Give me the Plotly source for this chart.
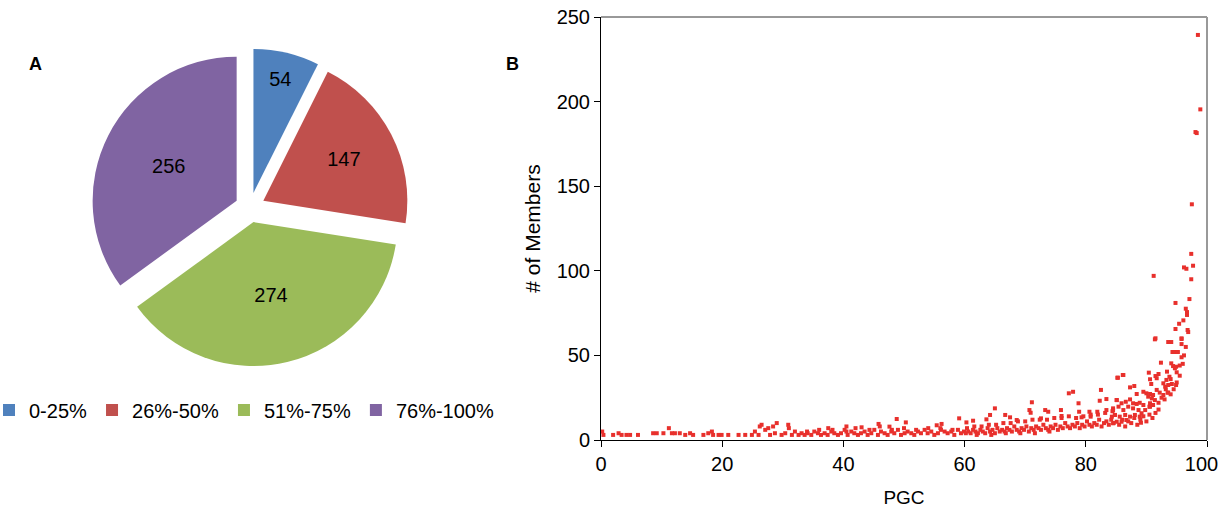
import plotly.graph_objects as go

# ---------- Panel A data ----------
pie_labels = ["0-25%", "26%-50%", "51%-75%", "76%-100%"]
pie_values = [54, 147, 274, 256]
pie_colors = ["#4F81BD", "#C0504D", "#9BBB59", "#8064A2"]

# ---------- Panel B data ----------
pgc_low = [0.2, 0.4, 2.0, 2.9, 3.4, 4.2, 4.8, 6.1, 8.6, 9.2, 10.3, 11.2, 11.7, 12.2, 13.0, 13.9,
           14.7, 15.2, 16.9, 17.7, 18.3, 18.5, 19.4, 19.9, 21.0, 22.7, 23.8, 24.9, 25.4, 26.0,
           26.2, 26.5, 27.1, 27.6, 27.9, 28.4, 29.0, 28.7, 29.8, 30.9, 31.0, 30.4, 31.5, 32.0,
           32.6, 33.1]
mem_low = [5, 3, 3, 4, 3, 3, 3, 3, 4, 4, 4, 7, 4, 4, 4, 3,
           4, 3, 3, 4, 5, 3, 3, 3, 3, 3, 3, 3, 5, 3,
           8, 9, 6, 7, 3, 8, 10, 4, 3, 9, 7, 4, 3, 5,
           3, 4]

pgc_mid = [33.6, 34.1, 34.7, 35.2, 35.8, 36.3, 36.9, 37.4, 38.0, 38.5, 39.1, 39.6, 40.2, 40.7,
           41.3, 41.8, 42.4, 42.9, 43.5, 44.0, 44.6, 45.1, 45.7, 46.2, 46.8, 47.3, 47.9, 48.4,
           49.0, 49.5, 50.1, 50.6, 51.2, 51.7, 52.3, 52.8, 53.4, 53.9, 54.5, 55.0, 55.6, 56.1,
           56.7, 57.2, 57.8, 58.3, 58.9, 59.4, 59.9,
           34.0, 36.0, 38.2, 40.5, 42.0, 44.3, 46.0, 48.0, 50.0, 52.0, 54.0, 56.0, 58.0,
           45.8, 47.6, 48.8, 50.3, 55.4, 56.2, 59.1, 40.5, 43.0, 37.5]
mem_mid = [3, 4, 3, 5, 4, 3, 4, 3, 5, 4, 3, 4, 6, 3,
           5, 4, 3, 4, 5, 3, 4, 6, 3, 5, 4, 3, 5, 4,
           6, 3, 4, 5, 4, 3, 5, 4, 6, 4, 5, 3, 4, 6,
           5, 4, 5, 3, 6, 4, 5,
           5, 6, 6, 5, 7, 6, 8, 6, 7, 6, 7, 7, 6,
           9.5, 7.9, 12.4, 10.4, 8.7, 9.5, 12.8, 8, 7.5, 7]

pgc_high = [60.2, 60.6, 61.0, 61.4, 61.8, 62.2, 62.6, 63.0, 63.4, 63.8, 64.2, 64.6, 65.0, 65.4,
            65.8, 66.2, 66.6, 67.0, 67.4, 67.8, 68.2, 68.6, 69.0, 69.4, 69.8, 70.2, 70.6, 71.0,
            71.4, 71.8, 72.2, 72.6, 73.0, 73.4, 73.8, 74.2, 74.6, 75.0, 75.4, 75.8, 76.2, 76.6,
            77.0, 77.4, 77.8, 78.2, 78.6, 79.0, 79.4, 79.8, 80.2, 80.6, 81.0, 81.4, 81.8, 82.2,
            82.6, 83.0, 83.4, 83.8, 84.2, 84.6,
            60.4, 61.6, 62.8, 64.0, 65.2, 66.4, 67.6, 68.8, 70.0, 71.2, 72.4, 73.6, 74.8, 76.0,
            77.2, 78.4, 79.6, 80.8, 82.0, 83.2, 84.4,
            62.0, 64.4, 66.8, 69.2, 71.6, 74.0,
            65.0, 64.2, 63.6, 61.4, 60.3, 66.7, 67.5, 68.6, 71.1, 70.7, 70.9, 72.6, 73.3, 73.8,
            75.9, 76.0, 77.2, 77.9, 78.8, 78.9, 79.3, 80.6, 80.8, 82.5, 82.3, 83.4, 81.9, 83.4,
            84.5, 84.8]
mem_high = [4, 5, 4, 6, 5, 4, 6, 5, 4, 7, 5, 6, 4, 7,
            5, 6, 5, 7, 6, 5, 8, 6, 5, 7, 6, 8, 5, 7,
            6, 8, 7, 6, 9, 7, 6, 8, 7, 9, 6, 8, 7, 10,
            8, 7, 9, 8, 10, 7, 9, 8, 11, 9, 8, 10, 9, 12,
            8, 10, 11, 9, 12, 10,
            7, 8, 8, 9, 9, 10, 10, 11, 11, 12, 12, 12, 13, 13,
            14, 13, 14, 15, 15, 16, 17,
            3, 3, 4, 4, 4, 5,
            18.7, 14.8, 12.2, 11.4, 10.4, 14.8, 13.4, 11.8, 22.3, 17.7, 16.1, 12.8, 17.7, 16.7,
            17.7, 14.2, 27.6, 28.5, 21.7, 16.7, 13.4, 16.7, 13.8, 29.6, 23.2, 24.2, 16.7, 17.7,
            18.7, 14.8]

pgc_top = [85.2, 85.1, 86.1, 85.3, 86.2,
           85.5, 86.0, 86.5, 87.0, 87.5, 88.0, 88.5, 89.0, 89.5, 90.0, 90.5, 91.0, 91.5, 92.0,
           85.1, 85.9, 86.6, 87.3, 87.8, 88.4, 88.9, 89.5, 89.8, 89.2, 88.7, 87.8, 87.0, 86.2,
           85.4, 84.5, 84.3, 84.8, 85.6, 86.5, 87.3, 88.1, 88.9, 85.1, 85.9, 86.7, 84.5, 89.1,
           90.6, 87.3, 88.0, 88.4,
           89.5, 90.0, 90.6, 91.1, 90.3, 90.9, 91.4, 90.6, 91.1, 90.5,
           91.7, 92.2, 92.8, 93.6, 92.8, 93.1, 93.6, 94.2, 94.9, 90.6, 90.8, 91.7,
           90.4, 92.0, 91.5, 93.4, 93.8, 93.3,
           94.1, 94.4, 94.7, 94.9, 92.4, 95.8, 94.3, 94.7, 95.2, 95.8, 95.8, 93.6, 94.1, 91.4,
           92.0, 92.5, 93.0, 93.5, 94.0, 94.5, 95.0, 95.5, 96.0,
           93.2, 94.0, 95.0, 95.5, 96.2, 96.5, 96.8,
           95.8, 91.5, 96.9, 94.8, 95.4, 96.1, 96.7, 96.7, 96.5, 94.8, 97.1, 97.4, 91.2, 97.7,
           96.6, 96.2, 97.4, 97.5, 98.1, 98.3, 98.9, 98.5]
mem_top = [36.8, 23.6, 38.4, 36.8, 38.4,
           9, 12, 8, 11, 10, 13, 9, 12, 14, 11, 15, 13, 16, 18,
           23.6, 21.7, 22.6, 24.0, 21.7, 21.3, 22.0, 20.7, 17.7, 15.8, 17.7, 18.7, 19.7, 17.7,
           19.7, 17.7, 13.8, 14.8, 13.8, 14.8, 13.8, 14.8, 13.8, 10.8, 10.8, 11.8, 9.9, 10.2,
           19.7, 31.1, 31.9, 27.2,
           28.5, 27.6, 27.2, 26.6, 25.6, 24.6, 23.6, 21.7, 20.7, 19.7,
           29.6, 28.0, 26.6, 28.0, 33.5, 31.5, 32.5, 33.1, 32.5, 35.9, 33.1, 36.5,
           39.8, 39.0, 37.8, 40.4, 37.4, 35.5,
           45.3, 43.7, 42.4, 43.3, 45.7, 48.9, 52, 52, 52, 56.7, 59.7, 57.9, 57.9, 59.5,
           22, 25, 24, 28, 27, 30, 34, 38, 45,
           30, 36, 40, 44, 50, 55, 65,
           60.1, 60.1, 63.8, 65.6, 68.7, 70.7, 73.9, 75.6, 77.6, 81.0, 83.3, 95.0, 97.0, 103.0,
           101.2, 102.0, 110.0, 139.3, 182.0, 181.4, 195.4, 239.4]

pgc = pgc_low + pgc_mid + pgc_high + pgc_top
members = mem_low + mem_mid + mem_high + mem_top

x_ticks = [0, 20, 40, 60, 80, 100]
# last label padded with no-break spaces so it stays inside the page, as in the reference
x_ticktext = ["0", "20", "40", "60", "80", "100\u00a0\u00a0"]
y_ticks = [0, 50, 100, 150, 200, 250]

FONT = "Liberation Sans, Arial, Helvetica, sans-serif"
W, H = 1221, 514

fig = go.Figure()

fig.add_trace(go.Pie(
    labels=pie_labels, values=pie_values, sort=False, direction="clockwise", rotation=0,
    marker=dict(colors=pie_colors, line=dict(width=0)),
    pull=[0.104, 0.104, 0.104, 0.104],
    textinfo="value", textposition="inside", insidetextorientation="horizontal",
    textfont=dict(size=20, color="black", family=FONT),
    domain=dict(x=[91 / W, 409 / W], y=[1 - 366.5 / H, 1 - 48.5 / H]),
    showlegend=True, hoverinfo="label+value",
))

fig.add_trace(go.Scatter(
    x=pgc, y=members, mode="markers",
    marker=dict(symbol="square", size=4, color="#E8302C"),
    xaxis="x", yaxis="y", showlegend=False,
))

axis_common = dict(showline=True, linecolor="black", linewidth=1, ticks="outside",
                   ticklen=6, tickcolor="black", showgrid=False, zeroline=False,
                   automargin=False, ticklabeloverflow="allow",
                   tickfont=dict(size=20, family=FONT, color="black"))

fig.update_layout(
    width=W, height=H,
    margin=dict(l=0, r=0, t=0, b=0, autoexpand=False),
    paper_bgcolor="white", plot_bgcolor="white",
    font=dict(family=FONT, color="black"),
    xaxis=dict(domain=[601 / W, 1207 / W], range=[0, 100], tickvals=x_ticks,
               ticktext=x_ticktext, anchor="y",
               title=dict(text="PGC", font=dict(size=19, family=FONT), standoff=16),
               **axis_common),
    yaxis=dict(domain=[1 - 440 / H, 1 - 17 / H], range=[0, 250], tickvals=y_ticks, anchor="x",
               title=dict(text="# of Members", font=dict(size=21, family=FONT), standoff=10),
               **axis_common),
    legend=dict(orientation="h", x=-11 / W, y=1 - 410 / H, xanchor="left", yanchor="middle",
                font=dict(size=20, family=FONT), traceorder="normal",
                itemwidth=30, bgcolor="rgba(0,0,0,0)"),
    shapes=[
        dict(type="line", xref="x domain", yref="y domain", x0=0, x1=1, y0=1, y1=1,
             line=dict(color="#333333", width=1)),
        dict(type="line", xref="x domain", yref="y domain", x0=1, x1=1, y0=0, y1=1,
             line=dict(color="#999999", width=2)),
    ],
    annotations=[
        dict(text="<b>A</b>", x=27 / W, y=1 - 52 / H, xref="paper", yref="paper",
             showarrow=False, font=dict(size=18, family=FONT)),
        dict(text="<b>B</b>", x=512 / W, y=1 - 52 / H, xref="paper", yref="paper",
             showarrow=False, font=dict(size=18, family=FONT)),
    ],
)

fig.write_html("out.html", config={"displayModeBar": False},
               post_script="document.body.style.margin='0';document.body.style.overflow='hidden';")
